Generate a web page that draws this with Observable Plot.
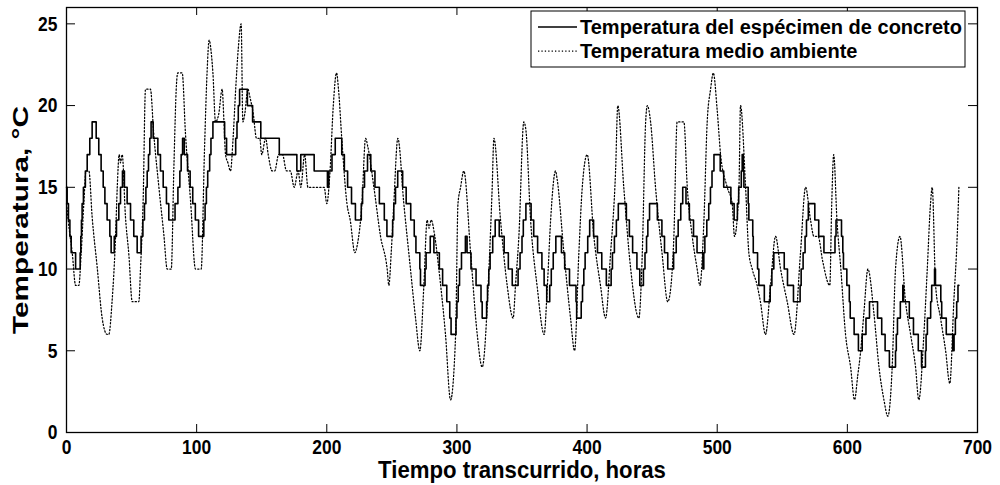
<!DOCTYPE html>
<html>
<head>
<meta charset="utf-8">
<script src="https://cdn.jsdelivr.net/npm/d3@7"></script>
<script src="https://cdn.jsdelivr.net/npm/@observablehq/plot@0.6"></script>
<style>
  html, body { margin: 0; padding: 0; background: #fff; }
</style>
</head>
<body>
<div id="chart"></div>
<script>
// Axis ticks and texts
const xTicks = [0, 100, 200, 300, 400, 500, 600, 700];
const yTicks = [0, 5, 10, 15, 20, 25];
const xLabel = "Tiempo transcurrido, horas";
const yLabel = "Temperatura, °C";
const seriesNames = ["Temperatura del espécimen de concreto", "Temperatura medio ambiente"];

// Concrete specimen temperature: [hour, °C] at each change of the integer reading
const concreto = [
  [0,15],[0.5,14],[1.5,13],[2.6,12],[3.6,11],[7,10],[10.5,11],[11,12],[11.5,13],[12,14],[13,15],[14.5,16],[15.9,17],[17.9,18],[19.7,19],
  [22.8,18],[24.8,17],[26.6,16],[28.2,15],[29.5,14],[31.2,13],[33.3,12],[34.3,11],[36.7,12],[38.4,13],[40.2,14],[41.5,15],[43,16],
  [44.5,15],[46.6,14],[49.2,13],[51.7,12],[54.3,11],[57.3,12],[58.7,13],[59.9,14],[61,15],[62,16],[63,17],[64,18],[65,19],[66.6,18],
  [70.2,17],[72.2,16],[74.3,15],[76.8,14],[78.6,13],[83.4,14],[85.6,15],[87.1,16],[88.1,17],[89.2,18],[90.5,17],[93,16],[95,15],
  [97,14],[99,13],[101.5,12],[105.5,13],[106.5,14],[107.5,15],[108.5,16],[110,17],[111,18],[112.5,19],[121.5,18],[123,17],[130,18],
  [131,19],[132,20],[133,21],[139,20],[143,19],[149.3,18],[163.5,17],[177,16],[180,17],[190.3,16],[200.5,15],[201.5,16],[204,17],
  [206.5,18],[211.5,17],[213.5,16],[216,15],[219,14],[222,13],[226.5,14],[227.5,15],[229,16],[231.3,17],[233.8,16],[237,15],[240.4,14],
  [244.2,13],[246.2,12],[250.6,13],[251.5,14],[252.8,15],[254.5,16],[258.3,15],[261,14],[264.5,13],[267.2,12],[268.5,11],[271.5,10],
  [272,9],[275.5,10],[276.3,11],[279.5,12],[282.3,11],[286.5,10],[289,9],[292.2,8],[294.5,7],[295.5,6],[299.3,7],[300,8],[301,9],
  [302,10],[303.5,11],[306.5,12],[307.8,11],[310.8,10],[314.7,9],[318.5,8],[319.4,7],[322.8,8],[323.5,9],[324.5,10],[325.5,11],
  [327.5,12],[329.4,13],[332.5,12],[336.3,11],[339.5,10],[342.5,9],[347,10],[348.5,11],[350,12],[351,13],[353,14],[357,13],[359,12],
  [362,11],[365.3,10],[367,9],[369,8],[371.3,9],[372.5,10],[374,11],[376,12],[380.3,11],[382.8,10],[386.5,9],[391.5,8],[392,7],
  [395.5,8],[396.5,9],[397.5,10],[398.5,11],[400.5,12],[402,13],[405,12],[408,11],[411.3,10],[414.8,9],[418.5,10],[419.5,11],[421,12],
  [422.5,13],[424,14],[430.2,13],[432.5,12],[435,11],[438.3,10],[440.5,9],[443.3,10],[444.5,11],[445.7,12],[446.7,13],[448,14],
  [454,13],[457.5,12],[459.5,11],[462,10],[466.5,11],[468.5,12],[470,13],[472,14],[473.5,15],[476,14],[478.6,13],[481.8,12],[484.5,11],
  [489,10],[489.7,11],[490.5,12],[492,13],[493.5,14],[494.8,15],[496,16],[497.5,17],[502.3,16],[505,15],[510.5,14],[513,13],[515.5,14],
  [516.5,15],[518.5,16],[519.2,17],[520,16],[520.5,15],[523.8,14],[524.3,13],[527.3,12],[527.7,11],[531,10],[532,9],[536.2,8],
  [540.7,9],[542,10],[543.5,11],[551.5,10],[554,9],[558.6,8],[563.7,9],[564.5,10],[566,11],[567.5,12],[568.6,13],[570,14],[575,13],
  [578,12],[582,11],[590.5,12],[591.3,13],[595.5,12],[596.5,11],[597,10],[599.6,9],[601.5,8],[602.2,7],[605.2,6],[608.5,5],[611.4,6],
  [614.3,7],[617,8],[623.2,7],[626.4,6],[629,5],[632.3,4],[637,5],[637.6,6],[638.5,7],[640.7,8],[642.6,9],[643.2,8],[647.6,7],
  [650.8,6],[654.5,5],[657,4],[660,5],[660.5,6],[661.5,7],[664,8],[664.8,9],[667,10],[667.7,9],[671.8,8],[672.5,7],[676,6],[681,5],
  [682,6],[683,7],[684,8],[685,9],[685.7,9]
];

// Ambient temperature: [hour, °C] at peaks, troughs and turning points
const ambiente = [
  [0,14],[2,12.5],[4.4,11],[7,9],[9.5,9],[11.3,11],[13.3,14],[15,16],[17.2,16],[19.7,13.2],[23.6,10.1],[27.4,7],[31.2,6],[32.5,6],
  [35,8],[37.7,12],[39,15],[40.5,17],[41.5,16.5],[42.8,17],[45.3,13.2],[47.9,10.9],[50.5,8],[55.6,8],[56.9,10.1],[58.9,14.2],[60.7,21],
  [64.5,21],[67,18.3],[71,15],[74.8,12.1],[77.4,10],[80.5,10],[82.5,16.2],[84.5,21.3],[85.5,22],[88.9,22],[91.4,18.3],[95.3,14.2],
  [99.1,10],[103.5,10],[106,17.2],[108,22],[109.6,24],[111.5,23],[112.5,22],[114.5,19],[117,19.5],[119.6,21],[121,19],[122.2,17],
  [124,16.5],[126,16],[128,18],[130,21],[132,23.5],[134.2,25],[135.5,19],[137,19.5],[139.4,21],[141,20.5],[143.5,19.5],[146,18],
  [148.5,18],[150,17],[153,18],[155,17],[158,16],[160,16],[163,17],[166,17],[169,16],[172,16],[175,15],[178,16],[180,15],[183,17],
  [185.5,15],[198,15],[200,14],[202.5,16],[205,20],[207.5,22],[209,21],[211.5,18],[215.5,14],[218,13],[221.6,11],[223.5,11.5],
  [227,14],[229.8,18],[231.5,17.5],[236.2,15],[241.3,12],[246.4,10],[247.7,9],[249.5,11],[251.5,14],[254.6,18],[259.2,14],[264.3,10],
  [268.2,7],[271.5,5],[274.6,9],[277.1,13],[278.5,12.5],[280.2,13],[283,12],[286.1,10],[291.2,6],[295.1,2],[299,6],[300.8,14],
  [302.8,15],[305.3,16],[310.5,11],[315.6,6],[319.4,4],[324.6,10],[327.1,15],[328.4,18],[333.5,13],[338.6,9],[343.2,7],[345,9],
  [347.6,12],[351.4,19],[353,18.5],[356.6,13],[361.7,8.9],[367,6],[369.5,9],[372,13],[375.8,16],[377,15.5],[382.2,11],[387.3,7],
  [390.4,5],[393.7,11],[396.3,15],[400.1,17],[405.2,12],[410.3,9],[414.2,7],[418,10.9],[421.9,16],[423.6,20],[428.2,15],[433.4,10.1],
  [439.8,7],[442.4,10.9],[445,19],[446.3,20],[448.8,19],[452.6,15],[457.7,10.9],[462,8],[464.5,9],[466.7,12],[469.2,19],[474.4,19],
  [477,15],[480.8,12],[484.6,10],[486.7,9],[489.8,13],[492.3,19],[494.9,21],[497,22],[500,19.7],[502.6,17],[507.7,15],[511.5,14],
  [513.3,12],[516.7,15],[517.9,20],[521.8,15],[524.3,11],[526.9,10],[530.7,9],[533.2,8],[537.1,6],[541,9],[544.8,12],[548.7,10],
  [553.8,8],[559,6],[564,11],[567.9,15],[571.7,13],[574.3,12],[577.5,12],[581,10.5],[586.5,9],[588,14],[589.5,17],[592,13],[595,10],
  [598.6,6],[602.5,4],[605.5,2],[608,3.5],[610,4.8],[612.7,7.3],[615.8,10],[620.4,7.3],[624.3,4],[628.1,2],[631.1,1],[634.5,4.1],
  [637,10],[640.4,12],[644.7,8],[648.6,6],[652.4,4],[654.9,2],[658.8,6],[661.4,10],[663.9,14],[665.2,15],[667.8,9],[671.6,7],
  [675.5,5],[678.7,3],[681.8,8],[684.4,12],[685.7,15]
];

const W = 1000, H = 485;
const M = {top: 7, right: 23, bottom: 53, left: 66};
const innerW = W - M.left - M.right;
const innerH = H - M.top - M.bottom;
const tickLen = 8;
const font = "'Liberation Sans', Arial, Helvetica, sans-serif";
const dotted = "1.3,2.1";

const chart = Plot.plot({
  width: W,
  height: H,
  marginTop: M.top,
  marginRight: M.right,
  marginBottom: M.bottom,
  marginLeft: M.left,
  style: {fontFamily: font, fontWeight: "bold", fontSize: "21px", background: "white", color: "black"},
  x: {domain: [0, 700], ticks: xTicks, tickSize: 0, tickPadding: 7, label: null},
  y: {domain: [0, 26], ticks: yTicks, tickSize: 0, tickPadding: 9, label: null},
  marks: [
    Plot.line(ambiente, {x: d => d[0], y: d => d[1], curve: "monotone-x", stroke: "black", strokeWidth: 1.25, strokeDasharray: dotted}),
    Plot.line(concreto, {x: d => d[0], y: d => d[1], curve: "step-after", stroke: "black", strokeWidth: 1.6}),
    // inward ticks on all four sides
    Plot.tickX(xTicks, {x: d => d, insetTop: innerH - tickLen, stroke: "black"}),
    Plot.tickX(xTicks, {x: d => d, insetBottom: innerH - tickLen, stroke: "black"}),
    Plot.tickY(yTicks, {y: d => d, insetRight: innerW - tickLen - 1, stroke: "black"}),
    Plot.tickY(yTicks, {y: d => d, insetLeft: innerW - tickLen - 1, stroke: "black"}),
    Plot.frame({stroke: "black", strokeWidth: 1.3}),
    Plot.text([xLabel], {text: d => d, frameAnchor: "bottom", textAnchor: "middle", lineAnchor: "middle", dy: 38, fontSize: 24, fontWeight: "bold", fill: "black"}),
    Plot.text([yLabel], {text: d => d, frameAnchor: "left", textAnchor: "middle", lineAnchor: "middle", rotate: -90, dx: -46, fontSize: 22, fontWeight: "bold", fill: "black"})
  ]
});

document.getElementById("chart").appendChild(chart);
const svgNode = chart.tagName.toLowerCase() === "svg" ? chart : chart.querySelector("svg");
const svg = d3.select(svgNode);

// stretch or squeeze a text along its own baseline, about its anchor point
function scaleText(el, sx) {
  const ax = parseFloat(el.getAttribute("x")) || 0;
  const ay = parseFloat(el.getAttribute("y")) || 0;
  const prev = el.getAttribute("transform") || "";
  el.setAttribute("transform", `${prev} translate(${ax},${ay}) scale(${sx},1) translate(${-ax},${-ay})`.trim());
}

// narrow digits on the tick labels
svg.selectAll("g[aria-label^='x-axis'] text, g[aria-label^='y-axis'] text").each(function () {
  scaleText(this, 0.83);
});

// axis titles
svg.selectAll("text").each(function () {
  const t = this.textContent;
  if (t === xLabel) scaleText(this, 288 / this.getComputedTextLength());
  if (t === yLabel) scaleText(this, 228 / this.getComputedTextLength());
});

// legend box in the upper right corner of the frame
const lgRight = W - M.right - 12, lgTop = M.top + 4, lgW = 434, lgH = 56;
const lg = svg.append("g")
  .attr("font-family", font).attr("font-weight", "bold").attr("font-size", 20)
  .attr("fill", "black").attr("text-anchor", "start");
lg.append("rect")
  .attr("x", lgRight - lgW).attr("y", lgTop).attr("width", lgW).attr("height", lgH)
  .attr("fill", "white").attr("stroke", "black").attr("stroke-width", 1);
const rowY = [lgTop + 16, lgTop + 40];
const dashes = [null, dotted];
seriesNames.forEach((name, i) => {
  lg.append("line")
    .attr("x1", lgRight - lgW + 7).attr("x2", lgRight - lgW + 46)
    .attr("y1", rowY[i]).attr("y2", rowY[i])
    .attr("fill", "none")
    .attr("stroke", "black").attr("stroke-width", i === 0 ? 1.6 : 1.25)
    .attr("stroke-dasharray", dashes[i]);
  lg.append("text")
    .attr("x", lgRight - lgW + 49).attr("y", rowY[i]).attr("dy", "0.35em")
    .attr("text-anchor", "start")
    .text(name);
});
</script>
</body>
</html>
